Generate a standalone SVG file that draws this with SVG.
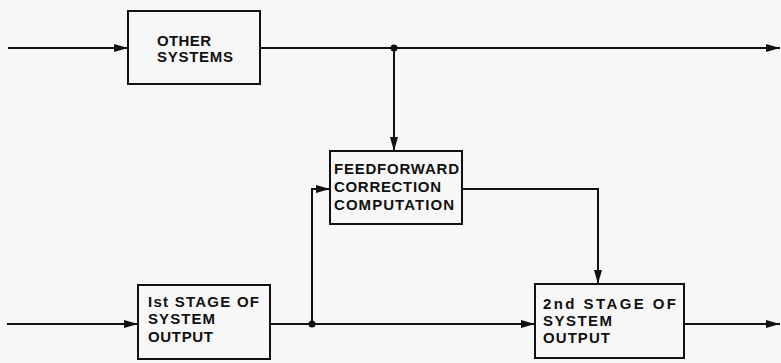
<svg xmlns="http://www.w3.org/2000/svg" width="781" height="363" viewBox="0 0 781 363">
<style>
.box{fill:none;stroke:#111;stroke-width:2}
.ln{fill:none;stroke:#111;stroke-width:2}
.t{font-family:"Liberation Sans",Arial,sans-serif;font-weight:bold;font-size:15px;fill:#111}
.dot{fill:#111}
</style>
<defs>
<marker id="ah" viewBox="0 0 14 8" refX="14" refY="4" markerWidth="14" markerHeight="8" markerUnits="userSpaceOnUse" orient="auto">
<path d="M0,0 L14,4 L0,8 Z" fill="#111"/>
</marker>
</defs>
<rect width="781" height="363" fill="#f7f7f7"/>
<g id="connectors">
<path class="ln" d="M8,48 H128" marker-end="url(#ah)"/>
<path class="ln" d="M260,48 H780" marker-end="url(#ah)"/>
<path class="ln" d="M394,48 V151" marker-end="url(#ah)"/>
<path class="ln" d="M7,324 H138" marker-end="url(#ah)"/>
<path class="ln" d="M270,324 H535" marker-end="url(#ah)"/>
<path class="ln" d="M312,324 V189 H330" marker-end="url(#ah)"/>
<path class="ln" d="M462,189 H598 V284" marker-end="url(#ah)"/>
<path class="ln" d="M684,324 H780" marker-end="url(#ah)"/>
<circle class="dot" cx="394" cy="48" r="3.5"/>
<circle class="dot" cx="312" cy="324" r="3.5"/>
</g>
<g id="other-systems">
<rect class="box" x="128" y="11" width="132" height="73"/>
<text class="t" x="157" y="46" textLength="54" lengthAdjust="spacing">OTHER</text>
<text class="t" x="157" y="62" textLength="76" lengthAdjust="spacing">SYSTEMS</text>
</g>
<g id="feedforward">
<rect class="box" x="330" y="151" width="132" height="73"/>
<text class="t" x="334" y="174" textLength="125" lengthAdjust="spacing">FEEDFORWARD</text>
<text class="t" x="334" y="192" textLength="107" lengthAdjust="spacing">CORRECTION</text>
<text class="t" x="334" y="210" textLength="120" lengthAdjust="spacing">COMPUTATION</text>
</g>
<g id="stage1">
<rect class="box" x="138" y="285" width="132" height="74"/>
<text class="t" x="148" y="307" textLength="111" lengthAdjust="spacing">Ist STAGE OF</text>
<text class="t" x="148" y="324" textLength="67" lengthAdjust="spacing">SYSTEM</text>
<text class="t" x="148" y="342" textLength="65" lengthAdjust="spacing">OUTPUT</text>
</g>
<g id="stage2">
<rect class="box" x="535" y="284" width="149" height="74"/>
<text class="t" x="543" y="309" textLength="133" lengthAdjust="spacing">2nd STAGE OF</text>
<text class="t" x="543" y="326" textLength="69" lengthAdjust="spacing">SYSTEM</text>
<text class="t" x="543" y="343" textLength="67" lengthAdjust="spacing">OUTPUT</text>
</g>
</svg>
